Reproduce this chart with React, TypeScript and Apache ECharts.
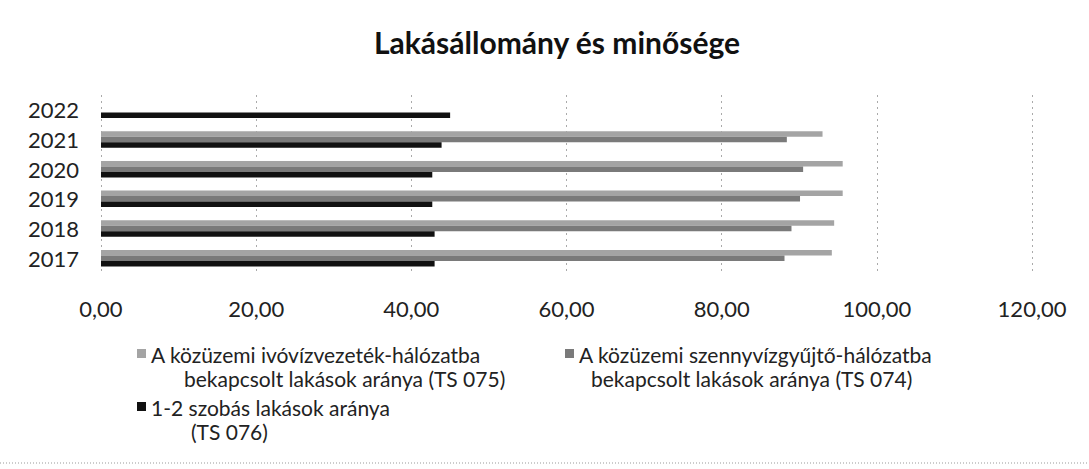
import React, { useEffect, useRef } from "react";
import * as echarts from "echarts";

const years = ["2017", "2018", "2019", "2020", "2021", "2022"];
const ivoviz = [94.2, 94.5, 95.6, 95.6, 93.0, null];
const szennyviz = [88.1, 89.0, 90.1, 90.5, 88.4, null];
const szobas = [43.0, 43.0, 42.7, 42.7, 43.9, 45.0];
const xTicks = { min: 0, max: 120, interval: 20 };

const nameIvo = "A közüzemi ivóvízvezeték-hálózatba bekapcsolt lakások aránya (TS 075)";
const nameSzenny = "A közüzemi szennyvízgyűjtő-hálózatba bekapcsolt lakások aránya (TS 074)";
const nameSzoba = "1-2 szobás lakások aránya (TS 076)";

const FONT = "Lato, 'Noto Sans', sans-serif";
const LFS = 21;
const LLH = 24;

export default function App() {
  const ref = useRef<HTMLDivElement>(null);
  useEffect(() => {
    document.body.style.margin = "0";
    const chart = echarts.init(ref.current!, null, { renderer: "svg" });
    // square in the first text line; invisible corner dots stretch the icon box to both lines
    const topIcon = `path://M0,0h0.05v0.05h-0.05z M0,7h9v9h-9z M8.95,${2 * LLH}h0.05v0.05h-0.05z`;
    const mkLegend = (name: string, left: number, top: number, l1: string, l2: string, pad: number) => ({
      data: [name],
      left,
      top,
      orient: "horizontal",
      icon: topIcon,
      itemWidth: 9,
      itemHeight: 2 * LLH,
      itemGap: 4,
      selectedMode: false,
      formatter: () => `{a|${l1}}\n{b|${l2}}`,
      textStyle: {
        fontFamily: FONT,
        fontSize: LFS,
        color: "#222",
        rich: {
          a: { fontFamily: FONT, fontSize: LFS, color: "#222", lineHeight: LLH },
          b: { fontFamily: FONT, fontSize: LFS, color: "#222", lineHeight: LLH, padding: [0, 0, 0, pad] },
        },
      },
    });
    chart.setOption({
      animation: false,
      backgroundColor: "#fff",
      title: {
        text: "Lakásállomány és minősége",
        left: 369,
        top: 22,
        textStyle: { fontFamily: FONT, fontWeight: "bold", fontSize: 30, color: "#111" },
      },
      grid: { left: 101, right: 57, top: 95, bottom: 196 },
      legend: [
        mkLegend(nameIvo, 132, 337, "A közüzemi ivóvízvezeték-hálózatba", "bekapcsolt lakások aránya (TS 075)", 33),
        mkLegend(nameSzenny, 560, 337, "A közüzemi szennyvízgyűjtő-hálózatba", "bekapcsolt lakások aránya (TS 074)", 12),
        mkLegend(nameSzoba, 132, 390, "1-2 szobás lakások aránya", "(TS 076)", 40),
      ],
      xAxis: {
        type: "value",
        min: xTicks.min,
        max: xTicks.max,
        interval: xTicks.interval,
        axisLine: { show: false },
        axisTick: { show: false },
        axisLabel: {
          formatter: (v: number) => v.toFixed(2).replace(".", ","),
          fontFamily: FONT,
          fontSize: 22,
          color: "#222",
          margin: 24,
        },
        splitLine: { show: true, lineStyle: { type: [2, 4], color: "#aaa", width: 1 } },
      },
      yAxis: {
        type: "category",
        data: years,
        axisLine: { show: false },
        axisTick: { show: false },
        axisLabel: { fontFamily: FONT, fontSize: 22, color: "#222", margin: 22 },
      },
      series: [
        {
          name: nameIvo,
          type: "bar",
          data: ivoviz,
          barWidth: 5.5,
          barGap: "0%",
          itemStyle: { color: "#a4a4a4" },
        },
        {
          name: nameSzenny,
          type: "bar",
          data: szennyviz,
          barWidth: 5.5,
          barGap: "0%",
          itemStyle: { color: "#7a7a7a" },
        },
        {
          name: nameSzoba,
          type: "bar",
          data: szobas,
          barWidth: 5.5,
          barGap: "0%",
          itemStyle: { color: "#111" },
        },
      ],
      graphic: [
        {
          type: "line",
          shape: { x1: 0, y1: 463, x2: 1089, y2: 463 },
          style: { stroke: "#999", lineWidth: 1, lineDash: [1, 2] },
        },
      ],
    });
    return () => chart.dispose();
  }, []);
  return <div ref={ref} style={{ position: "fixed", left: 0, top: 0, width: 1089, height: 469 }} />;
}
